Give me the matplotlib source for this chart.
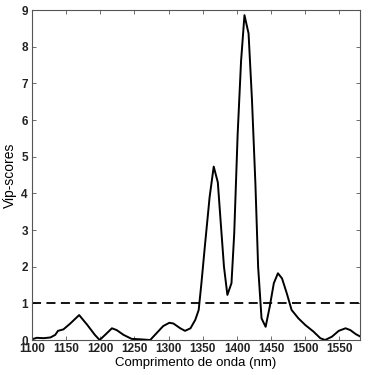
import numpy as np
import matplotlib
matplotlib.use("Agg")
import matplotlib.pyplot as plt

# wavelength (nm) and VIP scores
wl = [1100, 1107, 1117, 1127, 1134, 1138, 1146, 1156, 1169, 1181, 1192, 1199,
      1207, 1217, 1224, 1234, 1246, 1258, 1273, 1282, 1292, 1301, 1307, 1317,
      1324, 1332, 1339, 1344, 1348, 1353, 1360, 1366, 1372, 1376, 1381, 1386,
      1392, 1396, 1401, 1406, 1411, 1417, 1422, 1427, 1431, 1436, 1442, 1448,
      1454, 1460, 1466, 1473, 1480, 1490, 1500, 1512, 1522, 1529, 1539, 1549,
      1559, 1566, 1574, 1583]
vip = [0.02, 0.06, 0.05, 0.07, 0.14, 0.25, 0.29, 0.45, 0.68, 0.41, 0.14, 0.0,
       0.14, 0.32, 0.27, 0.14, 0.03, 0.02, 0.0, 0.18, 0.38, 0.47, 0.45, 0.32,
       0.25, 0.32, 0.55, 0.82, 1.55, 2.55, 3.9, 4.73, 4.3, 3.27, 2.0, 1.23,
       1.55, 2.9, 5.6, 7.6, 8.86, 8.36, 6.55, 4.27, 2.0, 0.59, 0.36, 0.91,
       1.55, 1.82, 1.68, 1.27, 0.82, 0.59, 0.41, 0.23, 0.05, 0.0, 0.09, 0.25,
       0.32, 0.27, 0.16, 0.07]
threshold = 1.0
xticks = [1100, 1150, 1200, 1250, 1300, 1350, 1400, 1450, 1500, 1550]
yticks = list(range(0, 10))

fig = plt.figure(figsize=(3.68, 3.75), dpi=100)
ax = fig.add_axes([0.087, 0.0933, 0.891, 0.88])

ax.plot(wl, vip, color="black", linewidth=1.4, solid_joinstyle="round")
ax.axhline(threshold, color="black", linestyle=(0, (5, 3)), linewidth=1.3)

ax.set_xlim(1100, 1580)
ax.set_ylim(0, 9)
ax.set_xticks(xticks)
ax.set_yticks(yticks)
ax.tick_params(direction="in", top=True, right=True, length=3, width=0.6,
               color="#555555", labelsize=8.5, labelcolor="#222222")
ax.tick_params(axis="x", pad=2.5)
ax.tick_params(axis="y", pad=3)
for lab in ax.get_xticklabels() + ax.get_yticklabels():
    lab.set_fontweight("bold")
    lab.set_family("Liberation Sans")
for s in ax.spines.values():
    s.set_color("#555555")
    s.set_linewidth(0.8)

ax.set_xlabel("Comprimento de onda (nm)", fontsize=9.5, family="Liberation Sans",
              labelpad=1)
ax.set_ylabel("Vip-scores", fontsize=10, family="Liberation Sans", labelpad=3)

fig.savefig("out.png", dpi=100)
